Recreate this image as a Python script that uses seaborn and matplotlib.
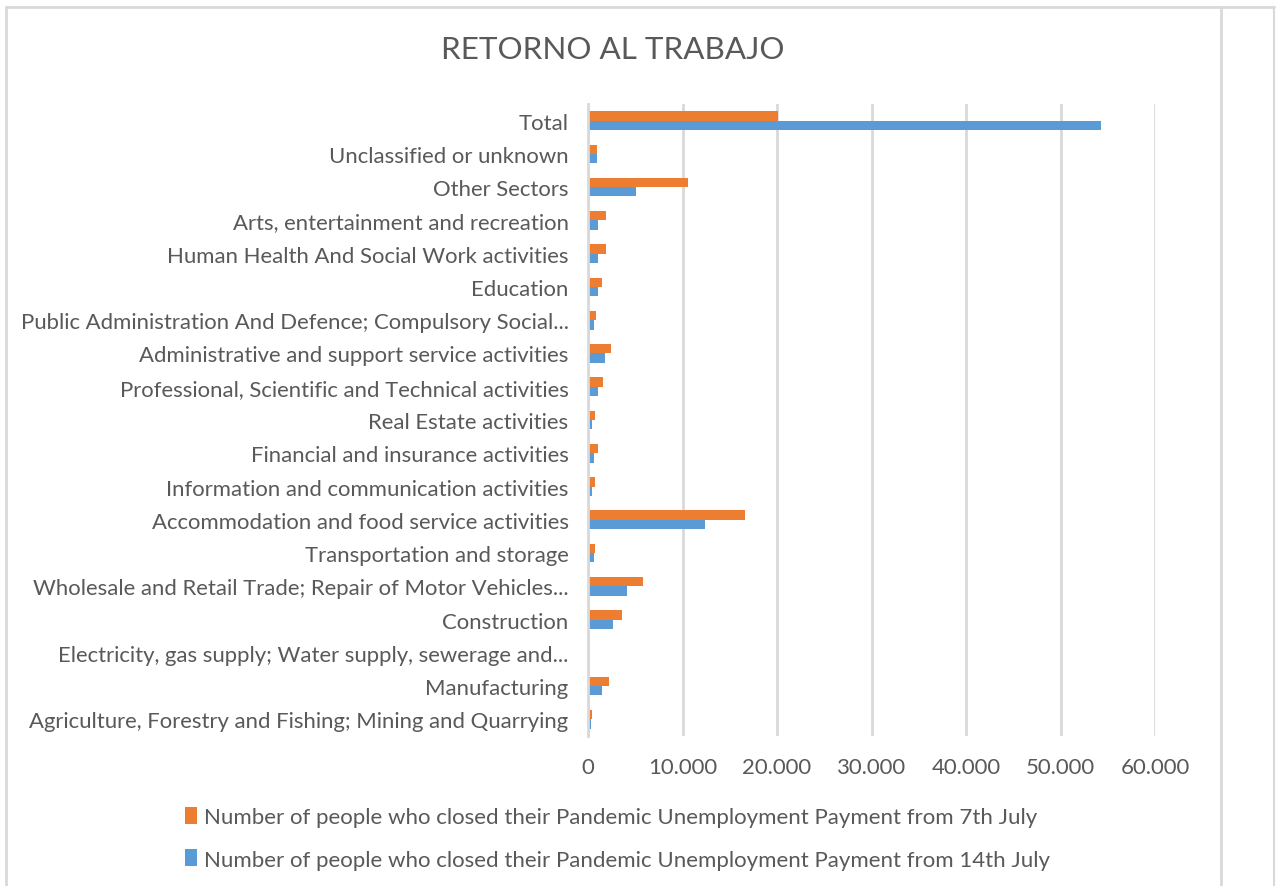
import matplotlib
matplotlib.use("Agg")
import matplotlib.pyplot as plt
import seaborn as sns
import pandas as pd
from matplotlib.ticker import FuncFormatter
from matplotlib.lines import Line2D
from matplotlib.patches import Patch

categories = [
    "Total",
    "Unclassified or unknown",
    "Other Sectors",
    "Arts, entertainment and recreation",
    "Human Health And Social Work activities",
    "Education",
    "Public Administration And Defence; Compulsory Social...",
    "Administrative and support service activities",
    "Professional, Scientific and Technical activities",
    "Real Estate activities",
    "Financial and insurance activities",
    "Information and communication activities",
    "Accommodation and food service activities",
    "Transportation and storage",
    "Wholesale and Retail Trade; Repair of Motor Vehicles...",
    "Construction",
    "Electricity, gas supply; Water supply, sewerage and...",
    "Manufacturing",
    "Agriculture, Forestry and Fishing; Mining and Quarrying",
]
from_7th_july = [20100, 1000, 10600, 1900, 1890, 1460, 890, 2420, 1600, 780,
                 1070, 740, 16600, 710, 5870, 3570, 50, 2230, 420]
from_14th_july = [54300, 1000, 5060, 1070, 1070, 1070, 600, 1850, 1070, 460,
                  640, 390, 12400, 600, 4100, 2610, 30, 1520, 280]
series_names = [
    "Number of people who closed their Pandemic Unemployment Payment from 7th July",
    "Number of people who closed their Pandemic Unemployment Payment from 14th July",
]
x_ticks = [0, 10000, 20000, 30000, 40000, 50000, 60000]

df = pd.DataFrame({
    "sector": categories * 2,
    "value": from_7th_july + from_14th_july,
    "series": [series_names[0]] * len(categories) + [series_names[1]] * len(categories),
})

sns.set_theme(style="white")
plt.rcParams["font.family"] = ["Lato", "DejaVu Sans"]

W, H = 1277, 887
fig = plt.figure(figsize=(W / 100, H / 100), dpi=100)
fig.patch.set_facecolor("white")
left, right, top, bottom = 588, 1155, 105, 737
ax = fig.add_axes([left / W, 1 - bottom / H, (right - left) / W, (bottom - top) / H])

colors = ["#ED7D31", "#5B9BD5"]
sns.barplot(data=df, y="sector", x="value", hue="series", order=categories,
            hue_order=series_names, palette=colors, orient="h", width=0.56,
            saturation=1, ax=ax, legend=False, linewidth=0)

ax.set_xlim(0, 60000)
ax.set_xticks(x_ticks)
ax.xaxis.set_major_formatter(FuncFormatter(lambda v, p: f"{int(v):,}".replace(",", ".")))
ax.grid(axis="x", color="#D9D9D9", linewidth=2)
ax.set_axisbelow(True)
for s in ["top", "right", "bottom"]:
    ax.spines[s].set_visible(False)
ax.spines["left"].set_color("#D9D9D9")
ax.spines["left"].set_linewidth(2)
ax.set_xlabel("")
ax.set_ylabel("")
ax.tick_params(axis="both", length=0, labelsize=15.9, labelcolor="#595959")
ax.tick_params(axis="y", pad=14)
ax.tick_params(axis="x", pad=15)

fig.text(613 / W, 1 - 50 / H, "RETORNO AL TRABAJO", ha="center", va="center",
         fontsize=22.6, color="#595959")

handles = [Patch(facecolor=c, edgecolor="none") for c in colors]
leg = fig.legend(handles, series_names, loc="upper left",
                 bbox_to_anchor=(165 / W, 1 - 788 / H), frameon=False,
                 fontsize=16, labelcolor="#595959", handlelength=0.55,
                 handleheight=0.8, handletextpad=0.3, labelspacing=1.0)

# chart frame
fc = "#D9D9D9"
fig.add_artist(Line2D([6 / W, 6 / W], [0, 1 - 8 / H], color=fc, lw=2, transform=fig.transFigure))
fig.add_artist(Line2D([6 / W, 1274 / W], [1 - 8 / H, 1 - 8 / H], color=fc, lw=2, transform=fig.transFigure))
fig.add_artist(Line2D([1221 / W, 1221 / W], [0, 1 - 8 / H], color=fc, lw=2, transform=fig.transFigure))
fig.add_artist(Line2D([1274 / W, 1274 / W], [0, 1 - 8 / H], color=fc, lw=1.5, transform=fig.transFigure))

fig.savefig("out.png", dpi=100, facecolor="white")
